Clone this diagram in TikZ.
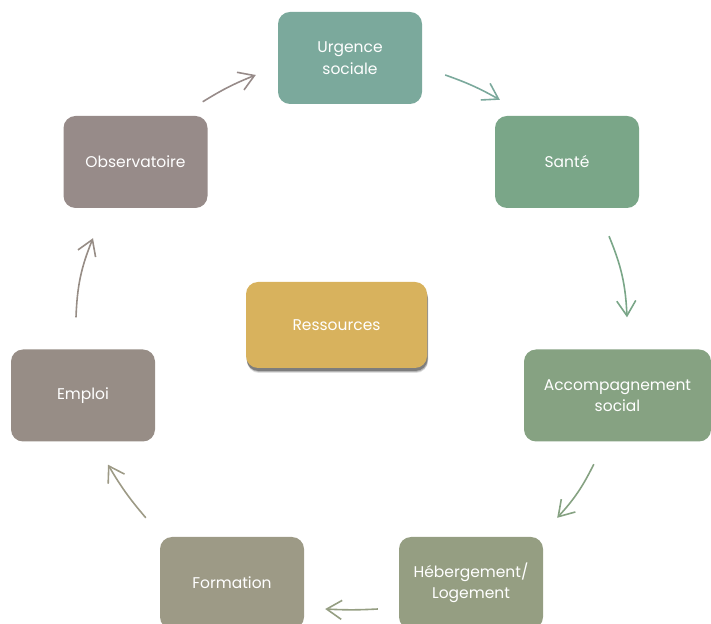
\documentclass[tikz,border=0pt]{standalone}
\usepackage{fontspec}
\setmainfont{Poppins}
\usetikzlibrary{arrows.meta, shadows}

\definecolor{urgcol}{HTML}{7BA99C}
\definecolor{santecol}{HTML}{7AA688}
\definecolor{acccol}{HTML}{86A282}
\definecolor{hebcol}{HTML}{959E82}
\definecolor{formcol}{HTML}{9D9A86}
\definecolor{emploicol}{HTML}{978D86}
\definecolor{obscol}{HTML}{978B89}
\definecolor{rescol}{HTML}{D8B25D}

\begin{document}
\begin{tikzpicture} [
						x=1pt, y=1pt,
						box/.style={rectangle, rounded corners=12pt, minimum width=144pt, minimum height=92pt,
							inner sep=0pt, align=center, text=white, font=\fontsize{15.5}{21.5}\selectfont},
						arrow/.style={-{Straight Barb[length=15pt, width=19pt]}, line width=1.6pt}
					]

\clip (0,0) rectangle (711,623);

\node (urg) [box, fill=urgcol] at (350,565) {Urgence\\sociale};
\node (sante) [box, fill=santecol] at (567,461) {Santé};
\node (acc) [box, fill=acccol, minimum width=187pt] at (617.5,227.5) {Accompagnement\\social};
\node (heb) [box, fill=hebcol] at (471,40) {Hébergement/\\Logement};
\node (form) [box, fill=formcol] at (232,40) {Formation};
\node (emploi) [box, fill=emploicol] at (83,227.5) {Emploi};
\node (obs) [box, fill=obscol] at (135.5,461) {Observatoire};
\node (res) [box, fill=rescol, minimum width=181pt, minimum height=86pt,
	drop shadow={shadow xshift=1pt, shadow yshift=-5pt, opacity=0.12, fill=black},
	drop shadow={shadow xshift=1pt, shadow yshift=-4pt, opacity=0.2, fill=black},
	drop shadow={shadow xshift=0.5pt, shadow yshift=-3pt, opacity=0.3, fill=black}] at (336.5,298) {Ressources};

\path[arrow]
	([xshift=-5pt,yshift=14pt]obs.north east) edge [draw=obscol, bend left=5] ([xshift=-22pt,yshift=-17pt]urg.west)
	([xshift=23pt,yshift=-17pt]urg.east) edge [draw=urgcol, bend left=5] ([xshift=5pt,yshift=16pt]sante.north west)
	([xshift=42pt,yshift=-28pt]sante.south) edge [draw=santecol, bend left=10] ([xshift=9.5pt,yshift=32pt]acc.north)
	([xshift=70pt,yshift=-22.5pt]acc.south west) edge [draw=acccol, bend left=8] ([xshift=14pt,yshift=19pt]heb.north east)
	([xshift=-21pt,yshift=-26pt]heb.west) edge [draw=hebcol, bend left=3] ([xshift=21pt,yshift=-26pt]form.east)
	([xshift=-14pt,yshift=19pt]form.north west) edge [draw=formcol, bend left=5] ([xshift=25pt,yshift=-23pt]emploi.south)
	([xshift=-7pt,yshift=32pt]emploi.north) edge [draw=emploicol, bend left=10] ([xshift=-42.5pt,yshift=-30pt]obs.south);

\end{tikzpicture}
\end{document}
